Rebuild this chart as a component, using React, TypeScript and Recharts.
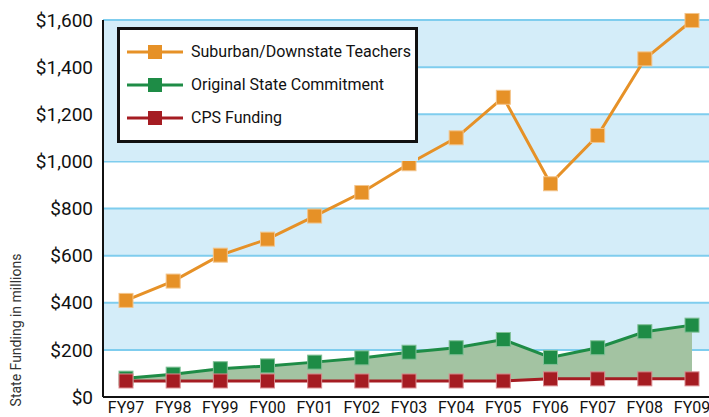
import React from 'react';
import { ComposedChart, Line, Area, XAxis, YAxis, CartesianGrid, Label } from 'recharts';

const years = ['FY97', 'FY98', 'FY99', 'FY00', 'FY01', 'FY02', 'FY03', 'FY04', 'FY05', 'FY06', 'FY07', 'FY08', 'FY09'];
const suburban = [410, 492, 602, 670, 768, 868, 990, 1100, 1272, 905, 1110, 1435, 1598];
const original = [80, 97, 120, 132, 148, 166, 190, 209, 244, 168, 209, 277, 305];
const cps = [68, 68, 68, 68, 68, 68, 68, 68, 68, 77, 77, 77, 77];
const yTicks = [0, 200, 400, 600, 800, 1000, 1200, 1400, 1600];

const ORANGE = '#e69127';
const GREEN = '#1e8c46';
const RED = '#a51c22';
const FONT = 'Roboto, "Liberation Sans", sans-serif';

const legendItems = [
  { name: 'Suburban/Downstate Teachers', color: ORANGE },
  { name: 'Original State Commitment', color: GREEN },
  { name: 'CPS Funding', color: RED },
];

const data = years.map((fy, i) => ({
  fy,
  suburban: suburban[i],
  original: original[i],
  cps: cps[i],
  band: [cps[i], original[i]],
}));

const money = (v: number) => '$' + v.toLocaleString('en-US');

// square markers with a lighter rim, like the print chart
const squareDot = (fill: string, rim: string) => (props: any) => {
  const { cx, cy, index } = props;
  if (cx == null || cy == null) return <g key={index} />;
  return <rect key={index} x={cx - 7} y={cy - 7} width={14} height={14} fill={fill} stroke={rim} strokeWidth={1} />;
};

// legend sits on a strip of the blue band, overlaid on the plot
const LegendBox = () => (
  <div style={{ position: 'absolute', left: 104, top: 21, background: '#d4edf9', padding: '6px 0 18px 13px' }}>
    <div style={{ border: '3px solid #111', background: '#fff', width: 301, padding: '5px 0 6px 0', boxSizing: 'border-box' }}>
      {legendItems.map(it => (
        <div key={it.name} style={{ display: 'flex', alignItems: 'center', height: 33 }}>
          <svg width={66} height={20} style={{ marginLeft: 5, flex: 'none' }}>
            <line x1={2} y1={10} x2={58} y2={10} stroke={it.color} strokeWidth={3} />
            <rect x={23} y={3} width={14} height={14} fill={it.color} />
          </svg>
          <span style={{ fontFamily: FONT, fontSize: 16, color: '#111', whiteSpace: 'nowrap' }}>{it.name}</span>
        </div>
      ))}
    </div>
  </div>
);

export default function App() {
  return (
    <div style={{ position: 'absolute', left: 0, top: 0, width: 709, height: 417, background: '#fff' }}>
      <ComposedChart width={709} height={417} data={data} margin={{ top: 20, right: 0, bottom: 0, left: 0 }}>
        <CartesianGrid
          vertical={false}
          stroke="#7fcdee"
          strokeWidth={2}
          horizontalFill={['#d4edf9', '#ffffff']}
          fillOpacity={1}
        />
        <XAxis
          dataKey="fy"
          scale="point"
          padding={{ left: 23, right: 17 }}
          height={20}
          tickSize={0}
          tickMargin={5}
          axisLine={{ stroke: '#111', strokeWidth: 2 }}
          tick={{ fill: '#111', fontSize: 16, fontFamily: FONT }}
          interval={0}
        />
        <YAxis
          type="number"
          domain={[0, 1600]}
          ticks={yTicks}
          width={103}
          tickSize={0}
          tickMargin={10}
          tickFormatter={money}
          axisLine={{ stroke: '#111', strokeWidth: 2 }}
          tick={{ fill: '#111', fontSize: 19, fontFamily: FONT }}
        >
          <Label
            content={() => (
              <text x={21} y={330} transform="rotate(-90, 21, 330)" textAnchor="middle" fill="#333" fontSize={14} fontFamily={FONT}>
                State Funding in millions
              </text>
            )}
          />
        </YAxis>
        <Area dataKey="band" stroke="none" fill="#a3c3a2" fillOpacity={1} isAnimationActive={false} legendType="none" />
        <Line dataKey="suburban" stroke={ORANGE} strokeWidth={3} dot={squareDot(ORANGE, '#f3c48a')} isAnimationActive={false} />
        <Line dataKey="original" stroke={GREEN} strokeWidth={3} dot={squareDot(GREEN, '#7fbf95')} isAnimationActive={false} />
        <Line dataKey="cps" stroke={RED} strokeWidth={3} dot={squareDot(RED, '#d98a8e')} isAnimationActive={false} />
      </ComposedChart>
      <LegendBox />
    </div>
  );
}
